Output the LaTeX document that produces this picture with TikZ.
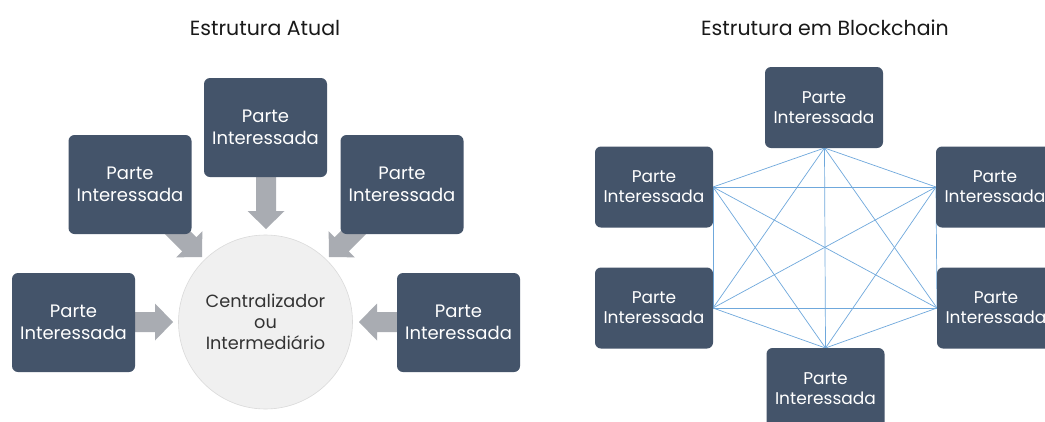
\documentclass[tikz,border=0pt]{standalone}
\usepackage{fontspec}
\setmainfont{Poppins}
\definecolor{boxc}{HTML}{44546A}
\definecolor{arrc}{HTML}{A9ACB2}
\definecolor{circc}{HTML}{F0F0F0}
\definecolor{circd}{HTML}{DADADA}
\definecolor{linec}{HTML}{6FA8DC}
\definecolor{txtc}{HTML}{333333}
\newcommand{\blockarrow}[4]{% angle, tip x, tip y, length
  \begin{scope}[shift={(#2,#3)}, rotate=#1]
    \fill[arrc] (0,0) -- (-18,18.5) -- (-18,10) -- (-#4,10) -- (-#4,-10) -- (-18,-10) -- (-18,-18.5) -- cycle;
  \end{scope}}
\begin{document}
\begin{tikzpicture}[x=1pt,y=-1pt,
  bigbox/.style={fill=boxc, rounded corners=6pt, text=white, align=center, inner sep=0pt,
    minimum width=123pt, minimum height=99pt, font=\fontsize{18}{22}\selectfont},
  smallbox/.style={fill=boxc, rounded corners=6pt, text=white, align=center, inner sep=0pt,
    minimum width=118pt, minimum height=81pt, font=\fontsize{17}{20}\selectfont},
  title/.style={text=black!90, font=\fontsize{20.5}{24}\selectfont},
  mesh/.style={draw=linec, line width=0.7pt}]
\clip (0,0) rectangle (1045,421);
\fill[white] (0,0) rectangle (1045,421);

% ---------- Left: Estrutura Atual ----------
\node[title] (t1) at (265,28) {Estrutura Atual};

% arrows (behind boxes)
\blockarrow{-90}{266}{229}{60}
\blockarrow{0}{173}{322}{45}
\blockarrow{180}{359}{322}{45}
\blockarrow{-45}{202}{257}{55}
\blockarrow{-135}{329}{257}{55}

\node[circle, fill=circc, draw=circd, line width=0.6pt, minimum size=174pt, inner sep=0pt,
  text=txtc, align=center, font=\fontsize{17.7}{21}\selectfont] (c) at (265.5,322)
  {Centralizador\\ou\\Intermediário};

\node[bigbox] (a1) at (265.5,127.5) {Parte\\Interessada};
\node[bigbox] (a2) at (130,184.5) {Parte\\Interessada};
\node[bigbox] (a3) at (402,184.5) {Parte\\Interessada};
\node[bigbox] (a4) at (73.5,322.5) {Parte\\Interessada};
\node[bigbox] (a5) at (458.5,322.5) {Parte\\Interessada};

% ---------- Right: Estrutura em Blockchain ----------
\node[title] (t2) at (825,28) {Estrutura em Blockchain};

\coordinate (pT) at (824.5,148);
\coordinate (pLU) at (713,187);
\coordinate (pRU) at (936,187);
\coordinate (pLL) at (713,308);
\coordinate (pRL) at (937,308);
\coordinate (pB) at (825.5,348);

\foreach \u/\v in {pT/pLU,pT/pRU,pT/pLL,pT/pRL,pT/pB,
                   pLU/pRU,pLU/pLL,pLU/pRL,pLU/pB,
                   pRU/pLL,pRU/pRL,pRU/pB,
                   pLL/pRL,pLL/pB,pRL/pB}
  \draw[mesh] (\u) -- (\v);

\node[smallbox] (bT) at (824,107.5) {Parte\\Interessada};
\node[smallbox] (bLU) at (654,187) {Parte\\Interessada};
\node[smallbox] (bRU) at (995,187) {Parte\\Interessada};
\node[smallbox] (bLL) at (654,308) {Parte\\Interessada};
\node[smallbox] (bRL) at (996,308) {Parte\\Interessada};
\node[smallbox] (bB) at (825.5,388.5) {Parte\\Interessada};
\end{tikzpicture}
\end{document}
